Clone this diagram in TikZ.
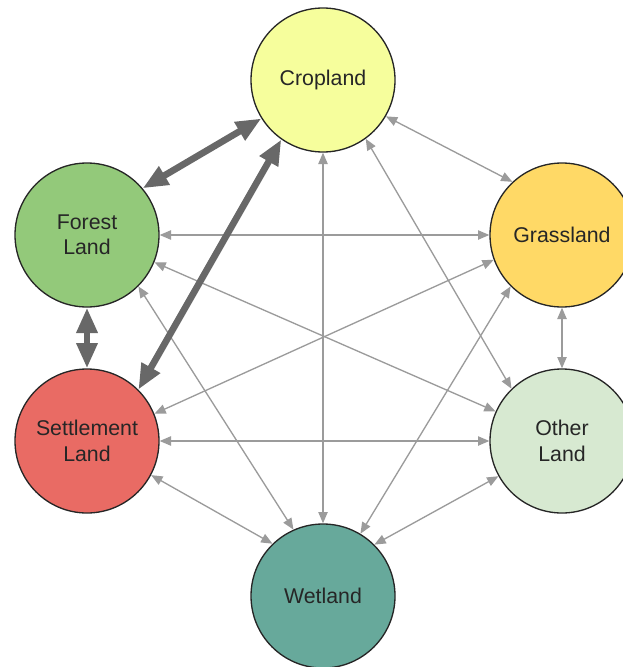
\documentclass[tikz,border=0pt]{standalone}
\usepackage{fontspec}
\setmainfont{Liberation Sans}
\usetikzlibrary{arrows.meta}

\definecolor{cropfill}{HTML}{F6FE9C}
\definecolor{grassfill}{HTML}{FFD966}
\definecolor{forestfill}{HTML}{93C97A}
\definecolor{settlefill}{HTML}{E96B64}
\definecolor{otherfill}{HTML}{D7E9D1}
\definecolor{wetfill}{HTML}{67A99B}
\definecolor{thinline}{HTML}{9B9B9B}
\definecolor{thickline}{HTML}{686868}

\tikzset{
  landuse/.style={circle, draw=black!85, line width=1pt, minimum size=108pt,
    inner sep=0pt, align=center, font=\fontsize{16}{19}\selectfont, text=black!85},
  minorflow/.style={thinline, line width=1pt,
    {Triangle[length=8.5pt,width=7pt]}-{Triangle[length=8.5pt,width=7pt]}},
  majorflow/.style={thickline, line width=5pt,
    {Triangle[length=19pt,width=15pt]}-{Triangle[length=19pt,width=15pt]}}
}

\begin{document}
\begin{tikzpicture}[x=0.75pt,y=0.75pt,yscale=-1,xscale=1]
\useasboundingbox (0,0) rectangle (623,667);

%Shape: Circle
\node [landuse, fill=cropfill] (crop) at (323,80) {Cropland};
%Shape: Circle
\node [landuse, fill=forestfill] (forest) at (87,235) {Forest\\Land};
%Shape: Circle
\node [landuse, fill=grassfill] (grass) at (562,235) {Grassland};
%Shape: Circle
\node [landuse, fill=settlefill] (settle) at (87,441) {Settlement\\Land};
%Shape: Circle
\node [landuse, fill=otherfill] (other) at (562,441) {Other\\Land};
%Shape: Circle
\node [landuse, fill=wetfill] (wet) at (323,596) {Wetland};

%Straight Lines
\draw [minorflow] (crop.-30) -- (grass.133);
%Straight Lines
\draw [minorflow] (crop.-54) -- (other.134);
%Straight Lines
\draw [minorflow] (crop) -- (wet);
%Straight Lines
\draw [minorflow] (forest) -- (grass);
%Straight Lines
\draw [minorflow] (forest.-22) -- (other.156);
%Straight Lines
\draw [minorflow] (forest.-45) -- (wet.114);
%Straight Lines
\draw [minorflow] (grass) -- (other);
%Straight Lines
\draw [minorflow] (grass.200) -- (settle.22);
%Straight Lines
\draw [minorflow] (grass.225) -- (wet.59);
%Straight Lines
\draw [minorflow] (settle) -- (other);
%Straight Lines
\draw [minorflow] (settle.-28) -- (wet.134);
%Straight Lines
\draw [minorflow] (other.209) -- (wet.45);

%Straight Lines
\draw [majorflow] (forest.40) -- (crop.212);
%Straight Lines
\draw [majorflow] (settle.45) -- (crop.235);
%Straight Lines
\draw [majorflow] (forest) -- (settle);
\end{tikzpicture}
\end{document}
